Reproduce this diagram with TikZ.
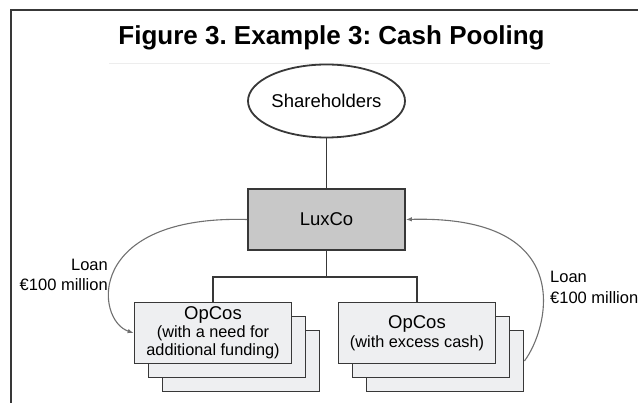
\documentclass[tikz,border=0pt]{standalone}
\usepackage{fontspec}
\setmainfont{Liberation Sans}
\usetikzlibrary{shapes.geometric,arrows.meta,positioning}
\definecolor{boxline}{HTML}{383838}
\definecolor{luxgray}{HTML}{C8C8C8}
\definecolor{opgray}{HTML}{EEEFF1}
\definecolor{loangray}{HTML}{707070}
\newcommand\opnote{\fontsize{16.3}{17.7}\selectfont}
\frenchspacing

\begin{document}
\begin{tikzpicture}[
    x=1pt, y=-1pt,
    >={Latex[length=6pt,width=4.5pt]},
    entity/.style={rectangle, draw=boxline, line width=1.8pt, inner sep=0pt, minimum width=157pt, minimum height=61pt, align=center, font=\fontsize{18.5}{21}\selectfont},
    holdco/.style={entity, fill=luxgray},
    opco/.style={entity, fill=opgray},
    owner/.style={ellipse, draw=boxline, line width=1.8pt, inner sep=0pt, minimum width=157pt, minimum height=73pt, font=\fontsize{18.5}{21}\selectfont},
    link/.style={draw=boxline, line width=1.4pt},
    loan/.style={->, draw=loangray, line width=1.1pt},
    note/.style={inner sep=0pt, font=\fontsize{16.5}{20.5}\selectfont}
  ]
    \useasboundingbox (0,0) rectangle (638,403);

    % frame and title
    \draw[boxline, line width=1.4pt] (11,403) -- (11,10) -- (638,10);
    \node[font=\fontsize{26}{30}\selectfont\bfseries] (title) at (331.5,38) {Figure 3. Example 3: Cash Pooling};
    \draw[black!7, line width=0.8pt] (109,63) -- (550,63);

    % entities
    \node[owner] (share) at (326.5,101) {Shareholders};
    \node[holdco] (lux) at (326.5,219.5) {LuxCo};

    \node[opco] (needC) at (241,361) {};
    \node[opco] (needB) at (227,347) {};
    \node[opco] (need) at (213,333) {OpCos\\[-3pt]\opnote (with a need for\\[-3pt]\opnote additional funding)};

    \node[opco] (excessC) at (445,361) {};
    \node[opco] (excessB) at (431,347) {};
    \node[opco] (excess) at (417,333) {OpCos\\[-2pt]\opnote (with excess cash)};

    \coordinate (split) at (326.5,277);

    % ownership lines
    \draw[link] (share) -- (lux);
    \draw[link] (lux) -- (split);
    \draw[link] (need.north) |- (split) -| (excess.north);

    % loans
    \draw[loan] (lux.west) .. controls (85,215) and (95,320) .. (need.west);
    \draw[loan] (excessC.east) .. controls (548,330) and (580,215) .. (lux.east);
    \node[note, anchor=east, align=right] (loanL) at (108,275) {Loan\\€100 million};
    \node[note, anchor=west, align=left] (loanR) at (550,287.5) {Loan\\€100 million};
  \end{tikzpicture}
\end{document}
